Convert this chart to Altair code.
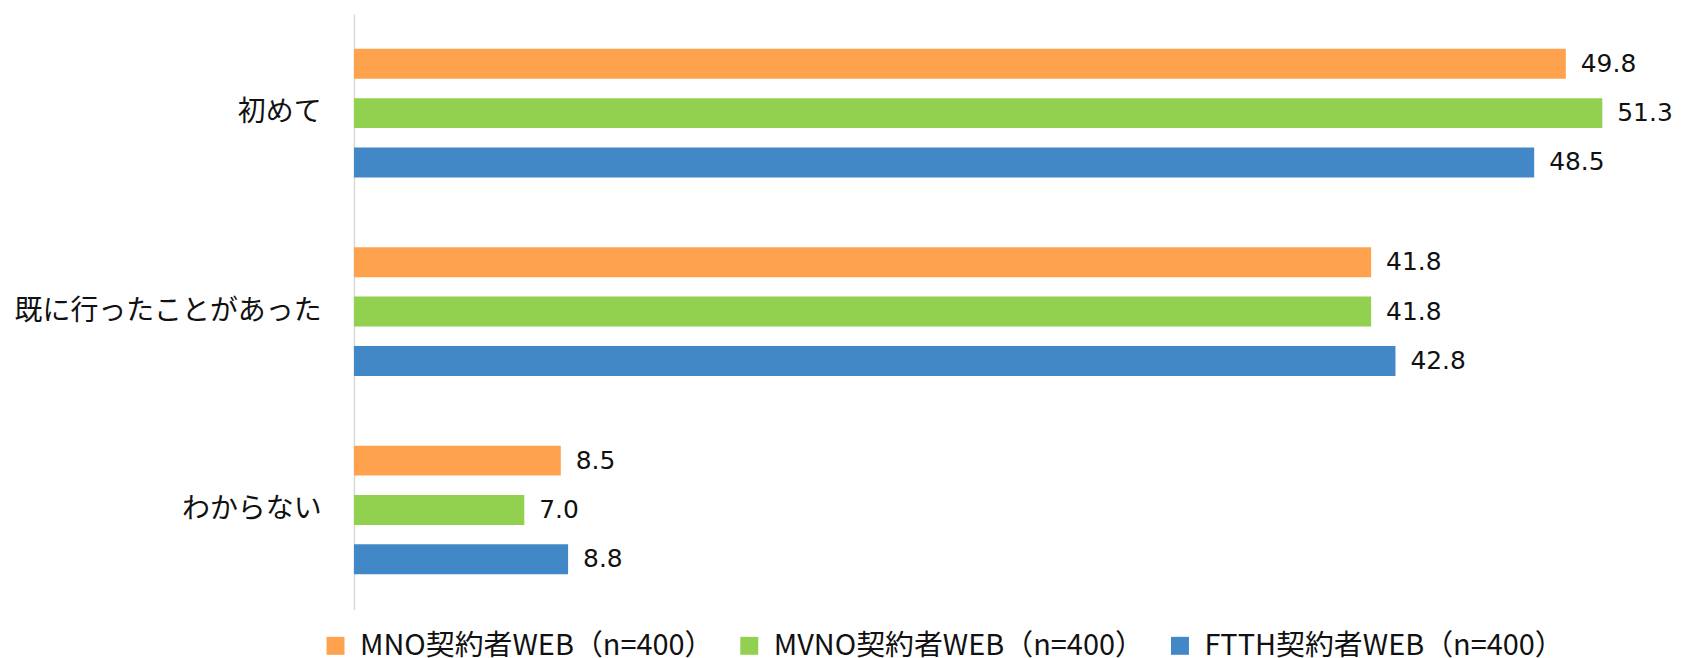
import altair as alt
import pandas as pd

categories = ["初めて", "既に行ったことがあった", "わからない"]
series = ["MNO契約者WEB（n=400）", "MVNO契約者WEB（n=400）", "FTTH契約者WEB（n=400）"]
colors = ["#FFA24D", "#92D050", "#4288C7"]
mno = [49.8, 41.8, 8.5]
mvno = [51.3, 41.8, 7.0]
ftth = [48.5, 42.8, 8.8]

rows = []
for s, vals in zip(series, [mno, mvno, ftth]):
    for c, v in zip(categories, vals):
        rows.append({"category": c, "series": s, "value": v})
df = pd.DataFrame(rows)

y_enc = alt.Y("category:N", sort=categories, title=None,
              scale=alt.Scale(domain=categories, paddingInner=0, paddingOuter=0),
              axis=alt.Axis(labelFont="Noto Sans CJK JP", labelFontSize=28, labelColor="#111",
                            labelPadding=33, ticks=False, domainColor="#d9d9d9", domainWidth=1.5,
                            grid=False, labelLimit=0))
yoff = alt.YOffset("series:N", sort=series,
                   scale=alt.Scale(domain=series, paddingInner=0.394, paddingOuter=0.707))
x_enc = alt.X("value:Q", scale=alt.Scale(domain=[0, 54], nice=False), axis=None)

bars = alt.Chart(df).mark_bar().encode(
    y=y_enc, yOffset=yoff, x=x_enc,
    color=alt.Color("series:N", sort=series,
                    scale=alt.Scale(domain=series, range=colors),
                    legend=alt.Legend(title=None, orient="none", direction="horizontal",
                                      legendX=-33, legendY=619,
                                      symbolType="square", symbolSize=324, symbolStrokeWidth=0,
                                      labelFont="Noto Sans CJK JP", labelFontSize=29,
                                      labelColor="#111", labelOffset=10, columnPadding=21,
                                      labelLimit=0)),
)

labels = alt.Chart(df).mark_text(align="left", baseline="middle", dx=15,
                                 font="DejaVu Sans", fontSize=25, color="#111").encode(
    y=alt.Y("category:N", sort=categories), yOffset=alt.YOffset("series:N", sort=series), x="value:Q",
    text=alt.Text("value:Q", format=".1f"),
)

chart = alt.layer(bars, labels).properties(
    width=1318, height=597,
    padding={"left": 5, "top": 5, "right": 0, "bottom": 0},
).configure_view(stroke=None)

chart.save("out.html", embed_options={"renderer": "svg", "actions": False})
